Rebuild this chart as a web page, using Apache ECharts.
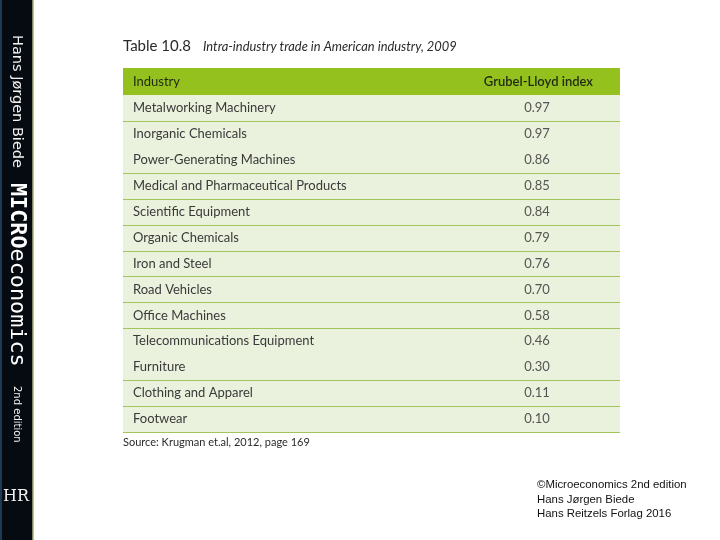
<!DOCTYPE html>
<html>
<head>
<meta charset="utf-8">
<script src="https://cdn.jsdelivr.net/npm/echarts@6/dist/echarts.min.js"></script>
<style>html,body{margin:0;padding:0;background:#fff}#c{width:720px;height:540px}</style>
</head>
<body>
<div id="c"></div>
<script>
const industries = [
  'Metalworking Machinery',
  'Inorganic Chemicals',
  'Power-Generating Machines',
  'Medical and Pharmaceutical Products',
  'Scientific Equipment',
  'Organic Chemicals',
  'Iron and Steel',
  'Road Vehicles',
  'Office Machines',
  'Telecommunications Equipment',
  'Furniture',
  'Clothing and Apparel',
  'Footwear'
];
const gliIndex = [0.97, 0.97, 0.86, 0.85, 0.84, 0.79, 0.76, 0.70, 0.58, 0.46, 0.30, 0.11, 0.10];
const headers = ['Industry', 'Grubel-Lloyd index'];
const tableTitle = 'Table 10.8';
const tableSubtitle = 'Intra-industry trade in American industry, 2009';
const sourceNote = 'Source: Krugman et.al, 2012, page 169';
const copyrightLines = ['©Microeconomics 2nd edition', 'Hans Jørgen Biede', 'Hans Reitzels Forlag 2016'];

// layout
const GL = 123, GR = 620, GT = 95, GB = 432, HEAD_T = 68;
const VALUE_COL = (537 - GL) / (GR - GL);
const rowsWithoutLine = [1, 9];
const FONT = 'Lato, "Open Sans", sans-serif';

const chart = echarts.init(document.getElementById('c'), null, {renderer: 'canvas'});

const valueData = gliIndex.map((v, i) => [i, v]);

chart.setOption({
  backgroundColor: '#ffffff',
  animation: false,
  title: {
    left: GL, top: 39, padding: 0,
    text: '{a|' + tableTitle + '}{b|' + tableSubtitle + '}',
    textStyle: {
      fontWeight: 'normal',
      rich: {
        a: {fontFamily: FONT, fontSize: 15, fontWeight: 'normal', color: '#2a2a2a', width: 80},
        b: {fontFamily: FONT, fontSize: 12.9, fontStyle: 'italic', fontWeight: 'normal', color: '#2a2a2a'}
      }
    }
  },
  grid: {
    left: GL, right: 720 - GR, top: GT, bottom: 540 - GB,
    show: true, backgroundColor: '#eaf1dc', borderWidth: 0
  },
  xAxis: {type: 'value', min: 0, max: 1, show: false},
  yAxis: {
    type: 'category', data: industries, inverse: true,
    axisLine: {show: false}, axisTick: {show: false}, splitLine: {show: false},
    axisLabel: {inside: true, margin: 10, align: 'left', fontFamily: FONT, fontSize: 13, color: '#3a3a3a'}
  },
  series: [{
    type: 'custom',
    data: valueData,
    encode: {x: 1, y: 0},
    renderItem: function (params, api) {
      const row = api.value(0);
      const v = api.value(1);
      const c = api.coord([VALUE_COL, row]);
      const h = api.size([0, 1])[1];
      const cs = params.coordSys;
      const children = [{
        type: 'text',
        style: {x: c[0], y: c[1], text: v.toFixed(2), align: 'center', verticalAlign: 'middle',
          textAlign: 'center', textVerticalAlign: 'middle',
          fill: '#555555', font: '13px ' + FONT}
      }];
      if (rowsWithoutLine.indexOf(row) < 0) {
        const yy = Math.round(c[1] + h / 2) + 0.5;
        children.push({type: 'line', shape: {x1: cs.x, y1: yy, x2: cs.x + cs.width, y2: yy},
          style: {stroke: '#a2c45a', lineWidth: 1.2}});
      }
      return {type: 'group', children: children};
    }
  }],
  graphic: [
    // header row
    {type: 'rect', shape: {x: GL, y: HEAD_T, width: GR - GL, height: GT - HEAD_T}, style: {fill: '#95c11f'}},
    {type: 'text', x: GL + 10, y: (HEAD_T + GT) / 2, style: {text: headers[0], font: '13px ' + FONT, fill: '#1f2a10', textVerticalAlign: 'middle', verticalAlign: 'middle'}},
    {type: 'text', x: 593, y: (HEAD_T + GT) / 2, style: {text: headers[1], font: '600 13px ' + FONT, fill: '#1f2a10', textAlign: 'right', align: 'right', textVerticalAlign: 'middle', verticalAlign: 'middle'}},
    // source
    {type: 'text', x: GL, y: 442, style: {text: sourceNote, font: '11px ' + FONT, fill: '#2a2a2a', textVerticalAlign: 'middle', verticalAlign: 'middle'}},
    // copyright block
    {type: 'text', x: 537, y: 485, style: {text: copyrightLines[0], font: '11.4px "Liberation Sans", sans-serif', fill: '#111', textVerticalAlign: 'middle', verticalAlign: 'middle'}},
    {type: 'text', x: 537, y: 500, style: {text: copyrightLines[1], font: '11.4px "Liberation Sans", sans-serif', fill: '#111', textVerticalAlign: 'middle', verticalAlign: 'middle'}},
    {type: 'text', x: 537, y: 514, style: {text: copyrightLines[2], font: '11.4px "Liberation Sans", sans-serif', fill: '#111', textVerticalAlign: 'middle', verticalAlign: 'middle'}},
    // left book spine
    {type: 'rect', shape: {x: 0, y: 0, width: 33, height: 540}, style: {fill: '#060b12'}},
    {type: 'rect', shape: {x: 0, y: 0, width: 2, height: 540}, style: {fill: '#1d3a55'}},
    {type: 'rect', shape: {x: 32, y: 0, width: 1.5, height: 540}, style: {fill: '#7f8a5a'}},
    {type: 'text', x: 17, y: 35, rotation: -Math.PI / 2, style: {text: 'Hans Jørgen Biede', font: '14.5px "DejaVu Sans", sans-serif', fill: '#f2f2f2', textVerticalAlign: 'middle', verticalAlign: 'middle'}},
    {type: 'text', x: 17, y: 183, rotation: -Math.PI / 2, style: {
      text: '{a|MICRO}{b|economics}', fill: '#ffffff', textVerticalAlign: 'middle', verticalAlign: 'middle',
      rich: {a: {fontFamily: '"DejaVu Sans Mono", monospace', fontWeight: 'bold', fontSize: 21.8, fill: '#fff', color: '#fff'},
             b: {fontFamily: '"DejaVu Sans Mono", monospace', fontSize: 21.8, fill: '#fff', color: '#fff'}}}},
    {type: 'text', x: 17, y: 386, rotation: -Math.PI / 2, style: {text: '2nd edition', font: '10px "DejaVu Sans", sans-serif', fill: '#f2f2f2', textVerticalAlign: 'middle', verticalAlign: 'middle'}},
    {type: 'text', x: 16, y: 497, style: {text: 'HR', font: '16px "DejaVu Serif", serif', fill: '#f2f2f2', textAlign: 'center', align: 'center', textVerticalAlign: 'middle', verticalAlign: 'middle'}}
  ]
});
</script>
</body>
</html>
